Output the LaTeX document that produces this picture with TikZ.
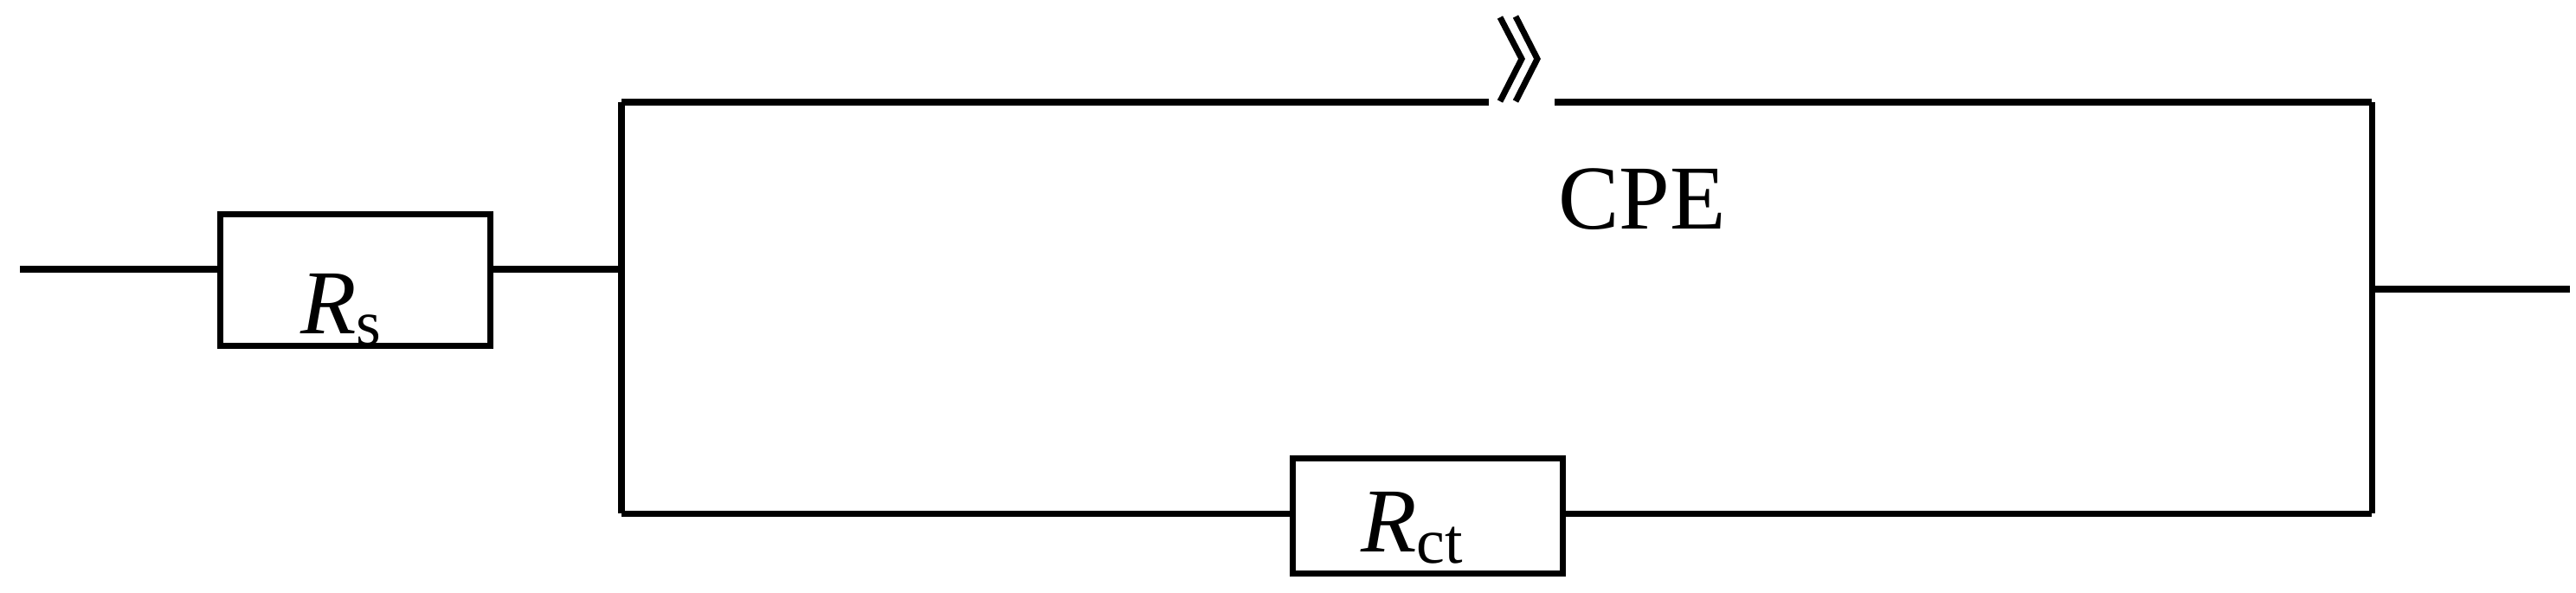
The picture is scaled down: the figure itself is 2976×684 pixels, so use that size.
\documentclass[tikz,border=0pt]{standalone}
\usepackage{fontspec}
\setmainfont{Liberation Serif}
\usetikzlibrary{positioning}
\begin{document}
\begin{tikzpicture}[x=0.01cm,y=-0.01cm,
    wire/.style={line width=2pt},
    res/.style={rectangle, draw=black, line width=2pt, inner sep=0pt},
    lbl/.style={font=\fontsize{30}{34}\selectfont}
]
\useasboundingbox (0,0) rectangle (2976,684);

% Resistors
\node[res, minimum width=3.11cm, minimum height=1.51cm] (rs) at (410.5,323.5) {};
\node[res, minimum width=3.11cm, minimum height=1.32cm] (rct) at (1649.5,596) {};
\node[lbl] at (395,358) {\textit{R}\textsubscript{s}};
\node[lbl] at (1632,610) {\textit{R}\textsubscript{ct}};
\node[lbl] (cpe) at (1897,230) {CPE};

% Junctions
\coordinate (in) at (23,311);
\coordinate (ja) at (718,311);
\coordinate (tl) at (718,118);
\coordinate (bl) at (718,593);
\coordinate (tr) at (2740,118);
\coordinate (br) at (2740,593);
\coordinate (jb) at (2740,334);
\coordinate (out) at (2969,334);
\coordinate (cl) at (1720,118);
\coordinate (cr) at (1796,118);

% Wires
\draw[wire] (in) -- (rs.west |- in);
\draw[wire] (rs.east |- ja) -- (ja);
\draw[wire] (tl) -- (bl);
\draw[wire] (tr) -- (br);
\draw[wire] (jb) -- (out);
\draw[wire] (bl) -- (rct.west |- bl);
\draw[wire] (rct.east |- br) -- (br);
\draw[wire] (tl) -- (cl);
\draw[wire] (cr) -- (tr);

% CPE symbol
\draw[wire] (1733,20) -- (1758,68) -- (1733,117);
\draw[wire] (1751,19) -- (1776,68) -- (1751,117);
\end{tikzpicture}
\end{document}
